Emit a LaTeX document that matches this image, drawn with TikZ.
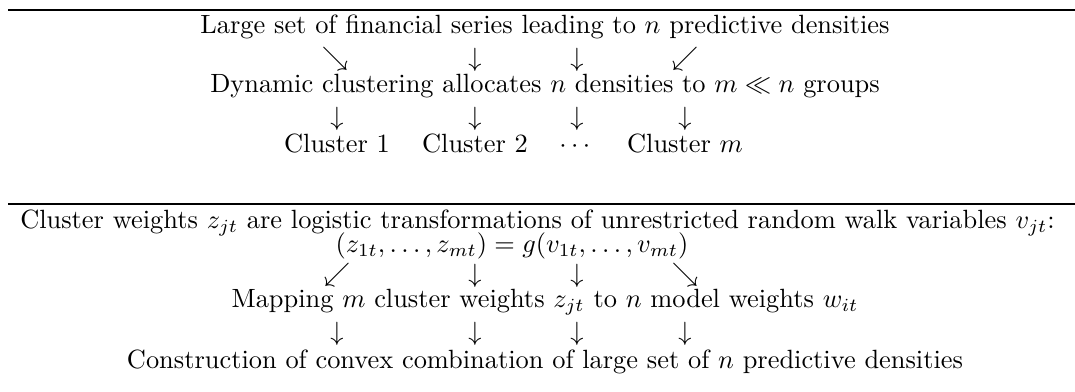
\documentclass[tikz,border=0pt]{standalone}
\usepackage{amsmath,amssymb}
\begin{document}
\begin{tikzpicture}[x=0.379pt,y=-0.379pt,
  txt/.style={inner sep=0pt,anchor=base},
  arr/.style={inner sep=0pt,anchor=center},
  rulethick/.style={line width=0.8pt},
  rulethin/.style={line width=0.4pt}]
\useasboundingbox (0,0) rectangle (1075,392);
% rules
\coordinate (r1a) at (8,10); \coordinate (r1b) at (1075,10);
\coordinate (r2a) at (8,204); \coordinate (r2b) at (1075,204);
\draw[rulethick] (r1a) -- (r1b);
\draw[rulethin] (r2a) -- (r2b);
% section 1
\node[txt] (large) at (545,34) {Large set of financial series leading to $n$ predictive densities};
\node[arr] (a1) at (335,59) {$\searrow$};
\node[arr] (a2) at (475,60) {$\downarrow$};
\node[arr] (a3) at (577,60) {$\downarrow$};
\node[arr] (a4) at (685,59) {$\swarrow$};
\node[txt] (dyn) at (545,93) {Dynamic clustering allocates $n$ densities to $m \ll n$ groups};
\node[arr] (b1) at (337,119) {$\downarrow$};
\node[arr] (b2) at (475,119) {$\downarrow$};
\node[arr] (b3) at (577,119) {$\downarrow$};
\node[arr] (b4) at (685,119) {$\downarrow$};
\node[txt] (c1) at (337,153) {Cluster 1};
\node[txt] (c2) at (475,153) {Cluster 2};
\node[txt] (c3) at (577,153) {$\cdots$};
\node[txt] (c4) at (685,153) {Cluster $m$};
% section 2
\node[txt] (cw) at (537.5,229) {Cluster weights $z_{jt}$ are logistic transformations of unrestricted random walk variables $v_{jt}$:};
\node[txt] (eq) at (512,253) {$(z_{1t},\ldots,z_{mt}) = g(v_{1t},\ldots,v_{mt})$};
\node[arr] (d1) at (337,275) {$\swarrow$};
\node[arr] (d2) at (475,276) {$\downarrow$};
\node[arr] (d3) at (577,276) {$\downarrow$};
\node[arr] (d4) at (685,275) {$\searrow$};
\node[txt] (map) at (545,308) {Mapping $m$ cluster weights $z_{jt}$ to $n$ model weights $w_{it}$};
\node[arr] (e1) at (337,334) {$\downarrow$};
\node[arr] (e2) at (475,334) {$\downarrow$};
\node[arr] (e3) at (577,334) {$\downarrow$};
\node[arr] (e4) at (685,334) {$\downarrow$};
\node[txt] (con) at (545,368) {Construction of convex combination of large set of $n$ predictive densities};
\end{tikzpicture}
\end{document}
